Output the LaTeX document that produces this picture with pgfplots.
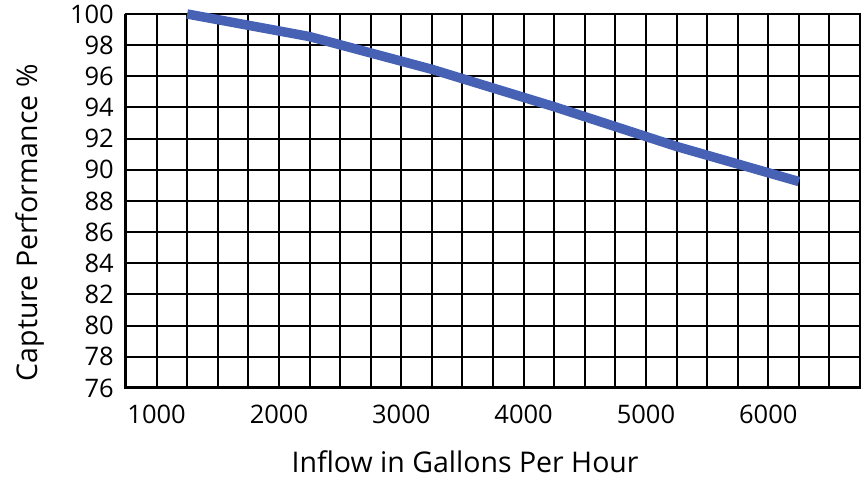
\documentclass[border=0pt]{standalone}
\usepackage{fontspec}
\setmainfont{Open Sans}
\usepackage{pgfplots}
\pgfplotsset{compat=1.18}
\definecolor{curveblue}{RGB}{71,98,181}
\begin{document}
\begin{tikzpicture}
\useasboundingbox (-126pt,-90pt) rectangle (741pt,388pt);
\begin{axis}[
    at={(0,0)}, anchor=south west,
    scale only axis,
    width=734pt, height=374pt,
    xmin=750, xmax=6750,
    ymin=76, ymax=100,
    xtick={1000,2000,...,6000},
    minor xtick={750,1250,1500,1750,2250,2500,2750,3250,3500,3750,4250,4500,4750,5250,5500,5750,6250,6500,6750},
    ytick={76,78,...,100},
    major tick length=0pt, minor tick length=0pt,
    grid=both,
    major grid style={black, line width=2pt},
    minor grid style={black, line width=2pt},
    axis line style={black, line width=2pt},
    /pgf/number format/assume math mode=true,
    /pgf/number format/1000 sep={},
    tick label style={font=\fontsize{25.5}{30}\selectfont, inner sep=0pt},
    xticklabel style={anchor=north, yshift=-17pt},
    yticklabel style={anchor=east, xshift=-12pt},
    label style={font=\fontsize{28.5}{34}\selectfont, inner sep=0pt},
    xlabel={Inflow in Gallons Per Hour},
    ylabel={Capture Performance \%},
    xlabel style={at={(axis description cs:0.462,-0.198)}, anchor=center},
    ylabel style={at={(axis description cs:-0.1308,0.442)}, anchor=center},
    clip=false,
]
\draw[black, line width=3pt] (rel axis cs:0,1) -- (rel axis cs:0,0) -- (rel axis cs:1,0);
\addplot[curveblue, line width=9.5pt, line join=round] coordinates {
    (1250,100) (2250,98.55) (3250,96.45) (4250,94.05) (5250,91.5) (6250,89.25)
};
\end{axis}
\end{tikzpicture}
\end{document}
